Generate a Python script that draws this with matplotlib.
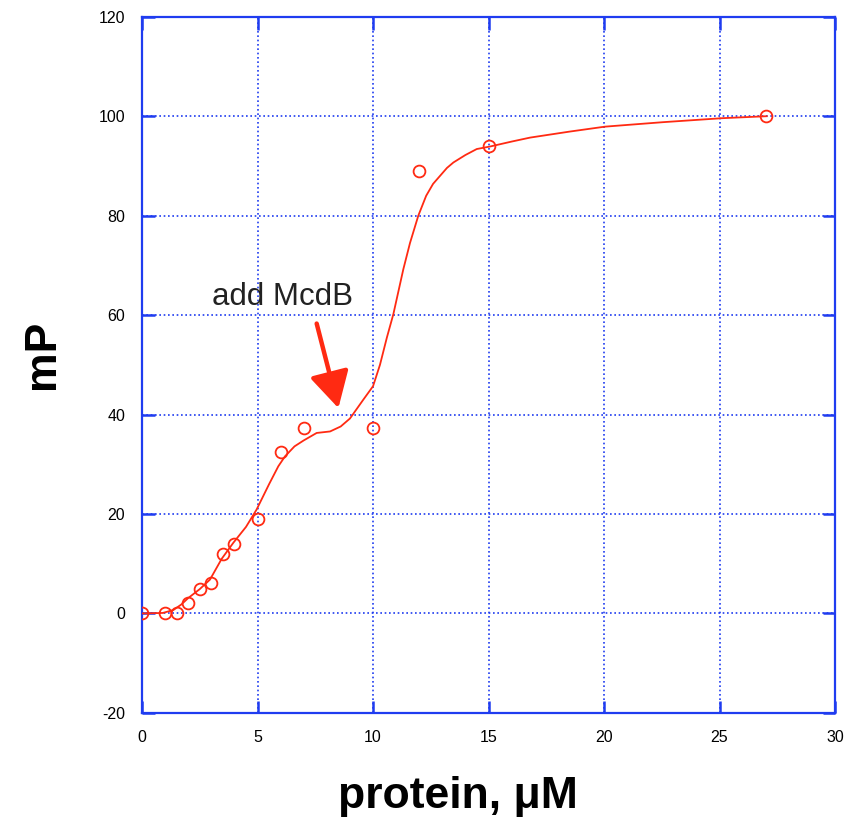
import matplotlib
matplotlib.use("Agg")
import matplotlib.pyplot as plt
from matplotlib import font_manager

plt.rcParams["axes.unicode_minus"] = False

# measured data points
data_x = [0, 1, 1.5, 2, 2.5, 3, 3.5, 4, 5, 6, 7, 10, 12, 15, 27]
data_y = [0, 0, 0, 2.1, 5, 6.2, 12, 14, 19, 32.5, 37.2, 37.2, 89, 94, 100]

# fitted curve
curve_x = [0, 0.9, 1.36, 1.7, 2.0, 2.5, 2.94, 3.45, 3.95, 4.5, 4.96, 5.5, 5.9, 6.19,
           6.6, 7.0, 7.56, 8.14, 8.6, 9.0, 9.58, 10.0, 10.3, 10.6, 10.88, 11.31,
           11.6, 11.96, 12.3, 12.6, 12.9, 13.2, 13.48, 14.0, 14.49, 15.06, 16.0,
           16.8, 18.5, 20.04, 22.55, 25.1, 27.04]
curve_y = [0, 0.1, 0.7, 1.8, 3.1, 4.9, 6.8, 11.0, 14.2, 17.4, 20.9, 26, 29.6, 31.6,
           33.6, 34.8, 36.3, 36.6, 37.6, 39.2, 43, 45.7, 50, 55.5, 60.2, 69.2,
           74.5, 80, 84, 86.4, 88, 89.6, 90.7, 92.2, 93.4, 93.9, 94.9,
           95.7, 96.9, 97.9, 98.8, 99.6, 100]

x_ticks = [0, 5, 10, 15, 20, 25, 30]
y_ticks = [-20, 0, 20, 40, 60, 80, 100, 120]

BLUE = "#1f3cf0"
RED = "#ff2a12"

installed = {f.name for f in font_manager.fontManager.ttflist}
if "Liberation Sans Narrow" in installed:
    tick_font = ["Liberation Sans Narrow", "DejaVu Sans"]
    tick_size = 13.5
else:
    tick_font = ["Liberation Sans", "DejaVu Sans"]
    tick_size = 11.5

fig = plt.figure(figsize=(8.48, 8.18), dpi=100)
ax = fig.add_axes([0.1675, 0.1285, 0.8172, 0.851])

ax.plot(curve_x, curve_y, color=RED, lw=1.3, zorder=3)
ax.plot(data_x, data_y, linestyle="none", marker="o", markersize=8.5,
        markerfacecolor="none", markeredgecolor=RED, markeredgewidth=1.3, zorder=4)

ax.set_xlim(0, 30)
ax.set_ylim(-20, 120)
ax.set_xticks(x_ticks)
ax.set_yticks(y_ticks)

ax.grid(True, color=BLUE, linestyle=(0, (1, 1.6)), linewidth=1.2)
ax.set_axisbelow(True)
for s in ax.spines.values():
    s.set_color(BLUE)
    s.set_linewidth(1.6)

ax.tick_params(axis="both", direction="in", length=9, width=1.8, color=BLUE,
               top=True, right=True, labelsize=tick_size)
ax.tick_params(axis="x", pad=12)
ax.tick_params(axis="y", pad=12)
for lab in ax.get_xticklabels() + ax.get_yticklabels():
    lab.set_family(tick_font)

label_font = ["Liberation Sans", "DejaVu Sans"]
ax.set_xlabel("protein, μM", fontsize=32, fontweight="bold", family=label_font,
              va="center", ha="center")
ax.set_ylabel("mP", fontsize=32, fontweight="bold", family=label_font,
              va="center", ha="center", rotation_mode="anchor")
ax.xaxis.set_label_coords(0.456, -0.12)
ax.yaxis.set_label_coords(-0.144, 0.515)

ax.text(6.06, 62, "add McdB", fontsize=22.5, family=label_font, ha="center",
        va="baseline", color="#222222")
ax.annotate("", xy=(8.5, 41.3), xytext=(7.56, 58.3),
            arrowprops=dict(arrowstyle="-|>,head_length=1.0,head_width=0.55",
                            color=RED, lw=3.2, mutation_scale=22, shrinkA=0, shrinkB=0))

fig.savefig("out.png", dpi=100)
